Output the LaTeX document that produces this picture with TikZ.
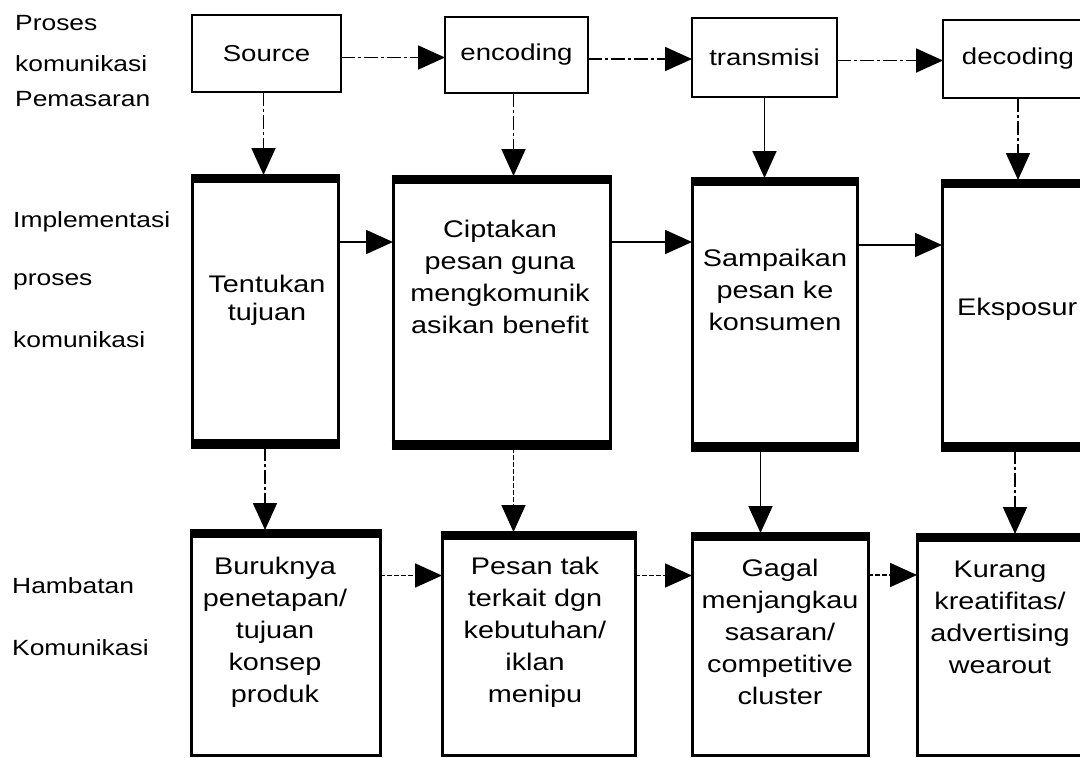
\documentclass[tikz,border=0pt]{standalone}
\usepackage{fontspec}
\setmainfont{Liberation Sans}[FakeStretch=1.2]
\usetikzlibrary{arrows.meta}
\tikzset{
  topbox/.style={draw,line width=1.8pt,inner sep=0pt,outer sep=0pt,font=\fontsize{23}{27}\selectfont},
  midbox/.style={draw,line width=3pt,inner sep=0pt,outer sep=0pt},
  boxtext/.style={align=center,inner sep=0pt,font=\fontsize{24}{32}\selectfont},
  sidetext/.style={anchor=base west,inner sep=0pt,font=\fontsize{22}{26}\selectfont},
  link/.style={line width=1.8pt,-{Triangle[length=27pt,width=24pt]}},
  dashlink/.style={link,dash pattern=on 14pt off 3pt on 3pt off 3pt},
  dotlink/.style={link,dash pattern=on 5pt off 2pt},
  thickedge/.style={line width=8pt}
}

\begin{document}
\begin{tikzpicture}[x=1pt,y=-1pt]
\path[use as bounding box] (0,0) rectangle (1080,758);
\clip (0,0) rectangle (1080,758);
% labels on the left
\node[sidetext] (lproses) at (15,30) {Proses};
\node[sidetext] (lkomun) at (15,71) {komunikasi};
\node[sidetext] (lpemas) at (15,106) {Pemasaran};
\node[sidetext] (limpl) at (13,227) {Implementasi};
\node[sidetext] (lproses2) at (13,285) {proses};
\node[sidetext] (lkomun2) at (13,347) {komunikasi};
\node[sidetext] (lhamb) at (12,593) {Hambatan};
\node[sidetext] (lkomun3) at (12,655) {Komunikasi};
% top row
\node[topbox,minimum width=149pt,minimum height=77pt] (src) at (266.5,53.5) {Source};
\node[topbox,minimum width=143pt,minimum height=76pt] (enc) at (516.5,55) {encoding};
\node[topbox,minimum width=145pt,minimum height=79pt] (tra) at (764.5,57.5) {transmisi};
\node[topbox,minimum width=150pt,minimum height=78pt] (dec) at (1018,59) {decoding};
% middle row
\node[midbox,minimum width=146pt,minimum height=272pt] (tuj) at (265,311) {};
\node[midbox,minimum width=217pt,minimum height=272pt] (cip) at (501.5,312) {};
\node[midbox,minimum width=165pt,minimum height=272pt] (sam) at (774.5,314) {};
\node[midbox,minimum width=158pt,minimum height=270pt] (eks) at (1021,315) {};
\foreach \n in {tuj,cip,sam,eks} {
  \draw[thickedge] ([xshift=-1.5pt,yshift=-4pt]\n.north west) -- ([xshift=1.5pt,yshift=-4pt]\n.north east);
  \draw[thickedge] ([xshift=-1.5pt,yshift=4pt]\n.south west) -- ([xshift=1.5pt,yshift=4pt]\n.south east);
}
\node[boxtext] (tujtxt) at (267,300) {Tentukan\\[-4pt]tujuan};
\node[boxtext] (ciptxt) at (500,277) {Ciptakan\\pesan guna\\mengkomunik\\asikan benefit};
\node[boxtext] (samtxt) at (775,290) {Sampaikan\\pesan ke\\konsumen};
\node[boxtext,anchor=base west] (ekstxt) at (957,315) {Eksposur};
% bottom row
\node[midbox,minimum width=189pt,minimum height=225pt] (bur) at (285.5,642.5) {};
\node[midbox,minimum width=193pt,minimum height=223pt] (pes) at (538.5,643.5) {};
\node[midbox,minimum width=176pt,minimum height=222pt] (gag) at (780,644) {};
\node[midbox,minimum width=183pt,minimum height=221pt] (kur) at (1008.5,644.5) {};
\foreach \n in {bur,pes,gag,kur}
  \draw[thickedge] ([xshift=-1.5pt,yshift=-4pt]\n.north west) -- ([xshift=1.5pt,yshift=-4pt]\n.north east);
\node[boxtext] (burtxt) at (275,632) {Buruknya\\penetapan/\\tujuan\\konsep\\produk};
\node[boxtext] (pestxt) at (535,632) {Pesan tak\\terkait dgn\\kebutuhan/\\iklan\\menipu};
\node[boxtext] (gagtxt) at (780,632) {Gagal\\menjangkau\\sasaran/\\competitive\\cluster};
\node[boxtext] (kurtxt) at (1000,617) {Kurang\\kreatifitas/\\advertising\\wearout};
% horizontal arrows
\draw[dashlink] ([yshift=-4pt]src.east) -- ([yshift=-4pt]src.east -| enc.west);
\draw[dashlink] ([yshift=-4pt]enc.east) -- ([yshift=-4pt]enc.east -| tra.west);
\draw[dashlink] ([yshift=-3pt]tra.east) -- ([yshift=-3pt]tra.east -| dec.west);
\draw[link] ([yshift=69pt]tuj.east) -- ([yshift=69pt]tuj.east -| cip.west);
\draw[link] ([yshift=70pt]cip.east) -- ([yshift=70pt]cip.east -| sam.west);
\draw[link] ([yshift=69pt]sam.east) -- ([yshift=69pt]sam.east -| eks.west);
\draw[dotlink] ([yshift=67pt]bur.east) -- ([yshift=67pt]bur.east -| pes.west);
\draw[dotlink] ([yshift=68pt]pes.east) -- ([yshift=68pt]pes.east -| gag.west);
\draw[dotlink] ([yshift=69pt]gag.east) -- ([yshift=69pt]gag.east -| kur.west);
% vertical arrows
\draw[dashlink] ([xshift=-3pt]src.south) -- ([xshift=-3pt]src.south |- tuj.north);
\draw[dashlink] ([xshift=-3pt]enc.south) -- ([xshift=-3pt]enc.south |- cip.north);
\draw[link] (tra.south) -- (tra.south |- sam.north);
\draw[dashlink] (dec.south) -- (dec.south |- eks.north);
\draw[dashlink] (tuj.south) -- (tuj.south |- bur.north);
\draw[dotlink] ([xshift=-3pt]enc.south |- cip.south) -- ([xshift=-3pt]enc.south |- pes.north);
\draw[link] ([xshift=-4pt]tra.south |- sam.south) -- ([xshift=-4pt]tra.south |- gag.north);
\draw[dashlink] ([xshift=-3pt]dec.south |- eks.south) -- ([xshift=-3pt]dec.south |- kur.north);
\end{tikzpicture}
\end{document}
